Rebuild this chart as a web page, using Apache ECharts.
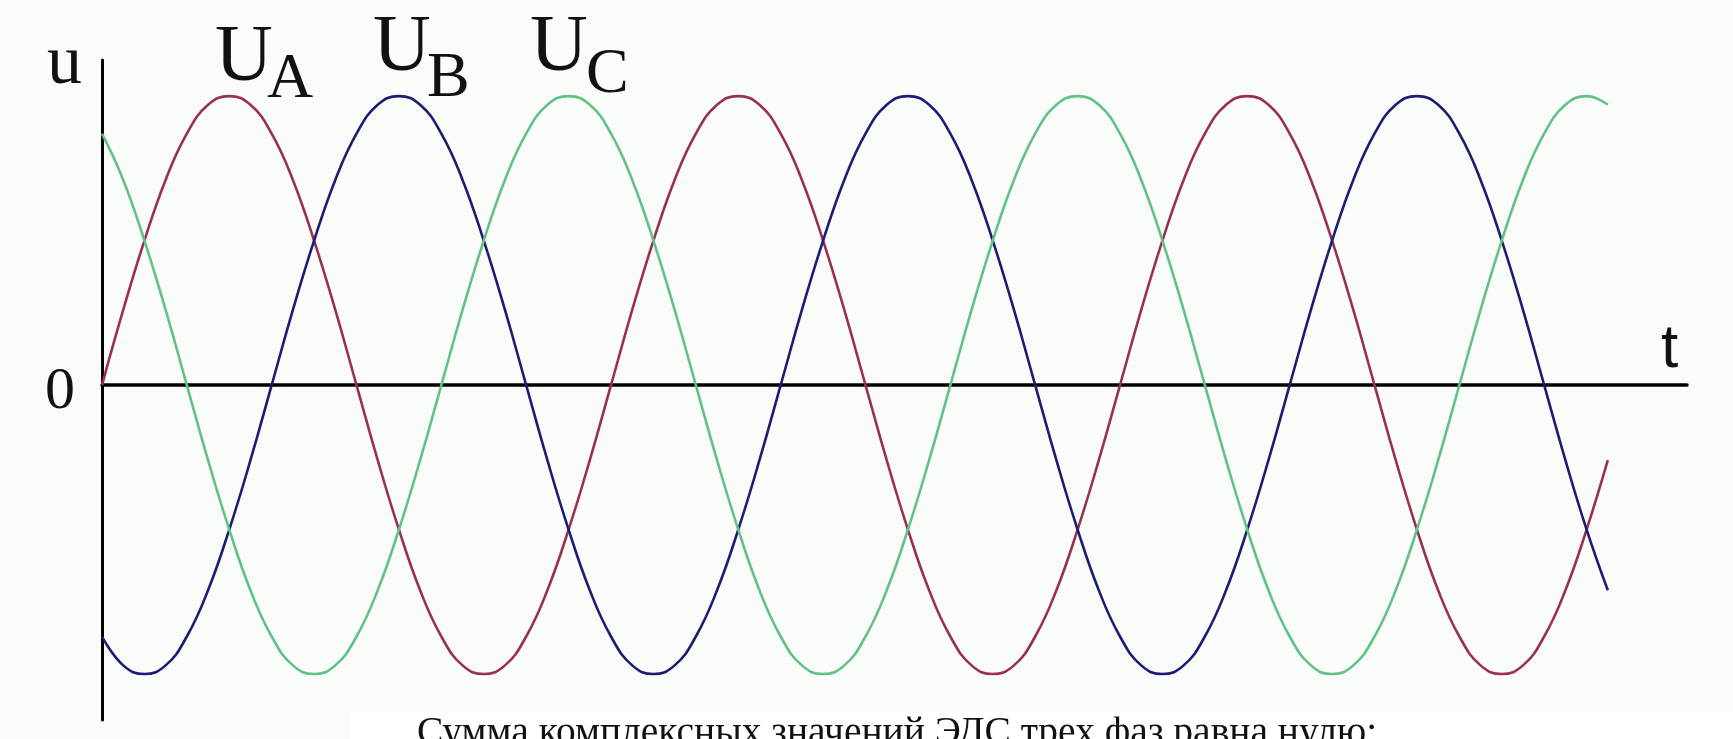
<!DOCTYPE html>
<html>
<head>
<meta charset="utf-8">
<script src="https://cdn.jsdelivr.net/npm/echarts@6/dist/echarts.min.js"></script>
<style>
html,body{margin:0;padding:0;background:#fafcfa;}
#chart{width:1733px;height:739px;}
</style>
</head>
<body>
<div id="chart"></div>
<script>
// time in electrical degrees
var t = [0,15,30,45,60,75,90,105,120,135,150,165,180,195,210,225,240,255,270,285,300,315,330,345,
         360,375,390,405,420,435,450,465,480,495,510,525,540,555,570,585,600,615,630,645,660,675,690,705,
         720,735,750,765,780,795,810,825,840,855,870,885,900,915,930,945,960,975,990,1005,1020,1035,1050,1065];
var uA = [0,0.26,0.5,0.71,0.87,0.97,1,0.97,0.87,0.71,0.5,0.26,0,-0.26,-0.5,-0.71,-0.87,-0.97,-1,-0.97,-0.87,-0.71,-0.5,-0.26,
          0,0.26,0.5,0.71,0.87,0.97,1,0.97,0.87,0.71,0.5,0.26,0,-0.26,-0.5,-0.71,-0.87,-0.97,-1,-0.97,-0.87,-0.71,-0.5,-0.26,
          0,0.26,0.5,0.71,0.87,0.97,1,0.97,0.87,0.71,0.5,0.26,0,-0.26,-0.5,-0.71,-0.87,-0.97,-1,-0.97,-0.87,-0.71,-0.5,-0.26];
var uB = [-0.87,-0.97,-1,-0.97,-0.87,-0.71,-0.5,-0.26,0,0.26,0.5,0.71,0.87,0.97,1,0.97,0.87,0.71,0.5,0.26,0,-0.26,-0.5,-0.71,
          -0.87,-0.97,-1,-0.97,-0.87,-0.71,-0.5,-0.26,0,0.26,0.5,0.71,0.87,0.97,1,0.97,0.87,0.71,0.5,0.26,0,-0.26,-0.5,-0.71,
          -0.87,-0.97,-1,-0.97,-0.87,-0.71,-0.5,-0.26,0,0.26,0.5,0.71,0.87,0.97,1,0.97,0.87,0.71,0.5,0.26,0,-0.26,-0.5,-0.71];
var uC = [0.87,0.71,0.5,0.26,0,-0.26,-0.5,-0.71,-0.87,-0.97,-1,-0.97,-0.87,-0.71,-0.5,-0.26,0,0.26,0.5,0.71,0.87,0.97,1,0.97,
          0.87,0.71,0.5,0.26,0,-0.26,-0.5,-0.71,-0.87,-0.97,-1,-0.97,-0.87,-0.71,-0.5,-0.26,0,0.26,0.5,0.71,0.87,0.97,1,0.97,
          0.87,0.71,0.5,0.26,0,-0.26,-0.5,-0.71,-0.87,-0.97,-1,-0.97,-0.87,-0.71,-0.5,-0.26,0,0.26,0.5,0.71,0.87,0.97,1,0.97];
var seriesNames = ['UA','UB','UC'];
var seriesColors = ['#9a3050','#1c1c72','#62c286'];
var caption = 'Сумма комплексных значений ЭДС трех фаз равна нулю:';

function pairs(vals){ return t.map(function(x,i){ return [x, vals[i]]; }); }

var chart = echarts.init(document.getElementById('chart'), null, {renderer:'canvas'});
var serif = '"Liberation Serif", "DejaVu Serif", serif';
var series = [uA,uB,uC].map(function(v,i){
  return {
    name: seriesNames[i], type:'line', data: pairs(v), smooth:0.45,
    showSymbol:false, animation:false,
    lineStyle:{color:seriesColors[i], width:2.6}, z:3
  };
});
chart.setOption({
  backgroundColor:'#fafcfa',
  animation:false,
  grid:{left:102, right:46, top:60, bottom:19},
  xAxis:{type:'value', min:0, max:1121,
    axisLine:{show:true, onZero:true, lineStyle:{color:'#000', width:3.5}},
    axisTick:{show:false}, axisLabel:{show:false}, splitLine:{show:false}},
  yAxis:{type:'value', min:-1.159, max:1.125,
    axisLine:{show:true, onZero:false, lineStyle:{color:'#000', width:3}},
    axisTick:{show:false}, axisLabel:{show:false}, splitLine:{show:false}},
  series: series,
  graphic:[
    {type:'text', x:47, y:65, style:{text:'u', font:'70px '+serif, fill:'#111', verticalAlign:'middle'}},
    {type:'text', x:45, y:392, style:{text:'0', font:'60px '+serif, fill:'#111', verticalAlign:'middle'}},
    {type:'text', x:1661, y:350, style:{text:'t', font:'62px "Liberation Sans", Arial, sans-serif', fill:'#111', verticalAlign:'middle'}},
    {type:'text', x:215, y:59, style:{text:'U', font:'80px '+serif, fill:'#111', verticalAlign:'middle'}},
    {type:'text', x:267, y:80, style:{text:'A', font:'64px '+serif, fill:'#111', verticalAlign:'middle'}},
    {type:'text', x:373, y:49, style:{text:'U', font:'80px '+serif, fill:'#111', verticalAlign:'middle'}},
    {type:'text', x:427, y:79, style:{text:'B', font:'64px '+serif, fill:'#111', verticalAlign:'middle'}},
    {type:'text', x:530, y:49, style:{text:'U', font:'80px '+serif, fill:'#111', verticalAlign:'middle'}},
    {type:'text', x:586, y:75, style:{text:'C', font:'64px '+serif, fill:'#111', verticalAlign:'middle'}},
    {type:'rect', shape:{x:351, y:711, width:1382, height:28}, style:{fill:'#ffffff'}, z:10},
    {type:'text', x:417, y:734, z:11, style:{text:caption, font:'39.5px '+serif, fill:'#111', verticalAlign:'middle'}}
  ]
});
</script>
</body>
</html>
